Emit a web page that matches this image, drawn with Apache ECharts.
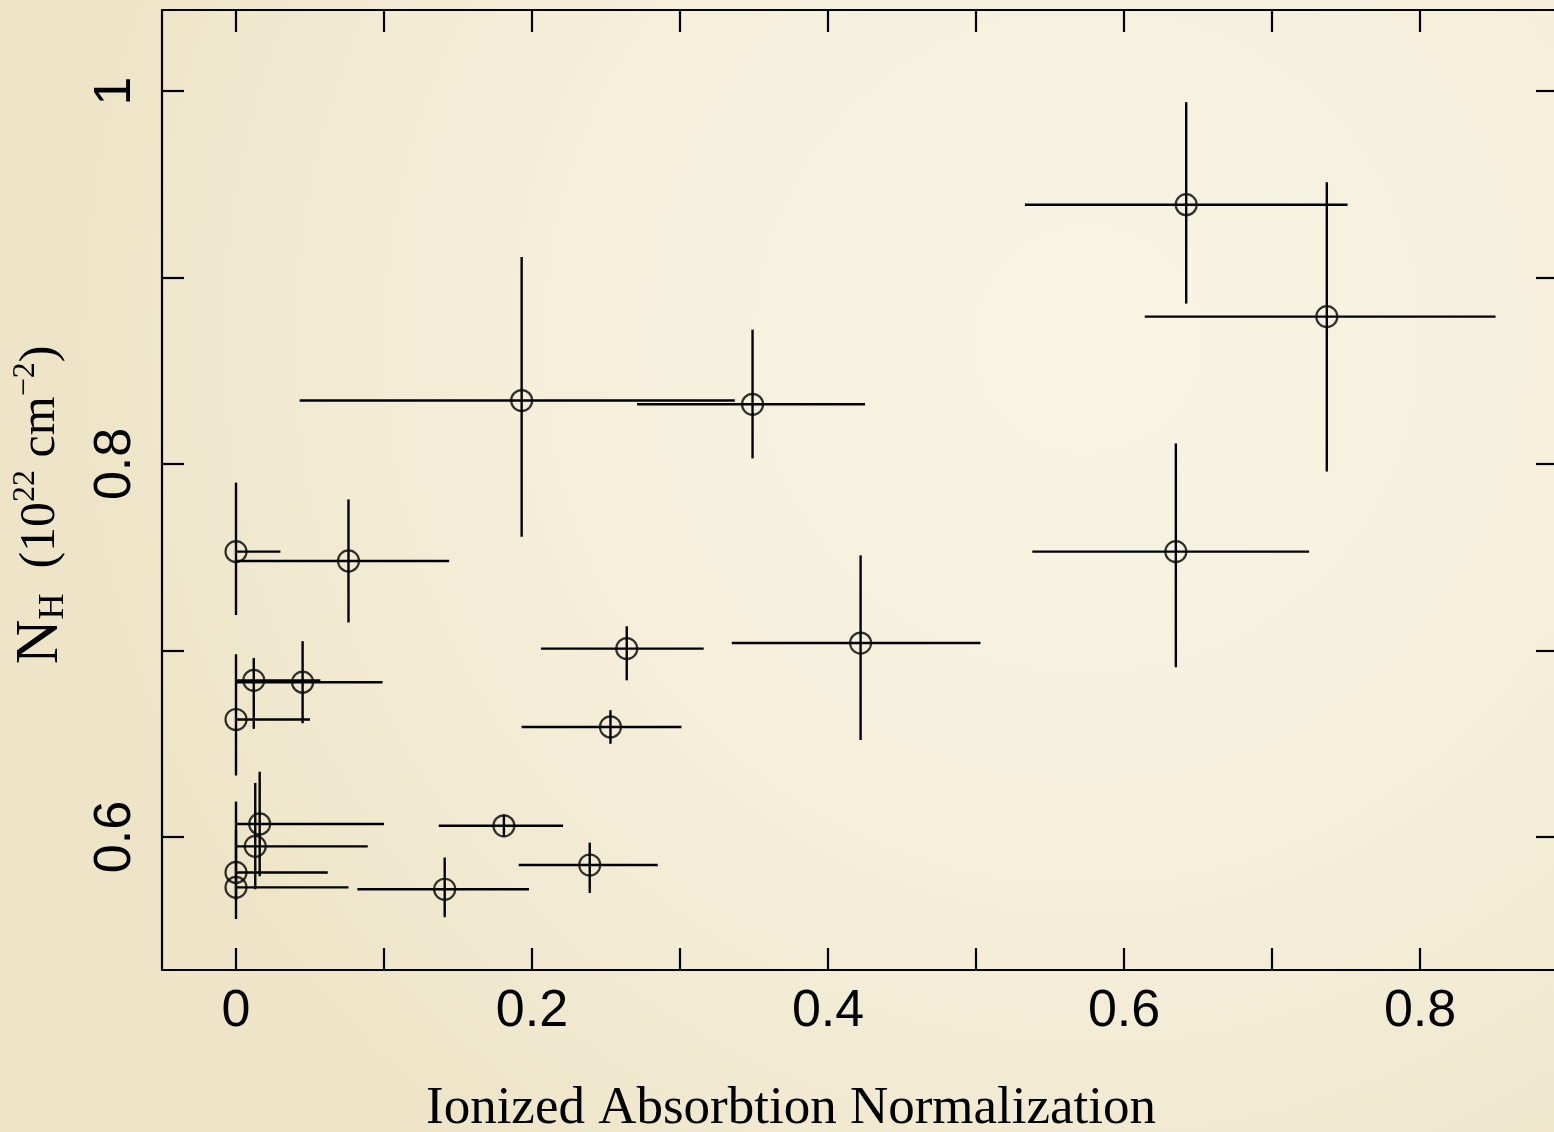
<!DOCTYPE html>
<html>
<head>
<meta charset="utf-8">
<script src="https://cdn.jsdelivr.net/npm/echarts@6/dist/echarts.min.js"></script>
<style>
html,body{margin:0;padding:0;background:#f2edd8;}
#chart{width:1554px;height:1132px;}
</style>
</head>
<body>
<div id="chart"></div>
<script>
// Ionized absorption normalization (x) and N_H (y), with error ranges
const xVals = [0.642, 0.737, 0.193, 0.349, 0.635, 0.422, 0.264, 0.253, 0.000, 0.076, 0.012, 0.045, 0.000, 0.016, 0.013, 0.000, 0.000, 0.141, 0.181, 0.239];
const xLo   = [0.533, 0.614, 0.043, 0.271, 0.538, 0.335, 0.206, 0.193, 0.000, 0.000, 0.000, 0.000, 0.000, 0.000, 0.000, 0.000, 0.000, 0.082, 0.137, 0.191];
const xHi   = [0.751, 0.851, 0.337, 0.425, 0.725, 0.503, 0.316, 0.301, 0.030, 0.144, 0.057, 0.099, 0.050, 0.100, 0.089, 0.062, 0.076, 0.198, 0.221, 0.285];
const yVals = [0.939, 0.879, 0.834, 0.832, 0.753, 0.704, 0.701, 0.659, 0.753, 0.748, 0.684, 0.683, 0.663, 0.607, 0.595, 0.581, 0.573, 0.572, 0.606, 0.585];
const yLo   = [0.886, 0.796, 0.761, 0.803, 0.691, 0.652, 0.684, 0.650, 0.719, 0.715, 0.658, 0.661, 0.633, 0.579, 0.572, 0.566, 0.556, 0.557, 0.600, 0.570];
const yHi   = [0.994, 0.951, 0.911, 0.872, 0.811, 0.751, 0.713, 0.668, 0.790, 0.781, 0.696, 0.705, 0.698, 0.635, 0.629, 0.619, 0.604, 0.589, 0.612, 0.597];

const xTicks = [0, 0.1, 0.2, 0.3, 0.4, 0.5, 0.6, 0.7, 0.8];
const xTickLabels = [0, 0.2, 0.4, 0.6, 0.8];
const yTicks = [0.6, 0.7, 0.8, 0.9, 1.0];
const yTickLabels = [0.6, 0.8, 1.0];

const X_MIN = -0.05, X_MAX = 0.8932;
const Y_MIN = 0.5287, Y_MAX = 1.0434;

const barData = xVals.map((x, i) => [x, yVals[i], xLo[i], xHi[i], yLo[i], yHi[i]]);
const pointData = xVals.map((x, i) => [x, yVals[i]]);

const chart = echarts.init(document.getElementById('chart'), null, {renderer: 'canvas'});

const axisLineStyle = {color: '#000', width: 2.2};
const tickStyle = {color: '#000', width: 2.2};

const option = {
  animation: false,
  backgroundColor: {
    type: 'radial', x: 0.7, y: 0.3, r: 0.9,
    colorStops: [
      {offset: 0, color: '#f8f5e5'},
      {offset: 0.6, color: '#f4eed9'},
      {offset: 1, color: '#eee5c8'}
    ]
  },
  grid: {left: 162, top: 10, width: 1396, height: 960, containLabel: false, outerBoundsMode: 'none'},
  xAxis: [
    {
      type: 'value', position: 'bottom', min: X_MIN, max: X_MAX,
      axisLine: {show: true, onZero: false, lineStyle: axisLineStyle},
      axisTick: {show: true, inside: true, length: 22, lineStyle: tickStyle, customValues: xTicks},
      axisLabel: {show: true, customValues: xTickLabels, margin: 16, color: '#000',
        fontSize: 52, fontFamily: 'Liberation Sans, Arial, sans-serif',
        formatter: v => String(Math.round(v * 10) / 10)},
      splitLine: {show: false}
    },
    {
      type: 'value', position: 'top', min: X_MIN, max: X_MAX,
      axisLine: {show: true, onZero: false, lineStyle: axisLineStyle},
      axisTick: {show: true, inside: true, length: 22, lineStyle: tickStyle, customValues: xTicks},
      axisLabel: {show: false},
      splitLine: {show: false}
    }
  ],
  yAxis: [
    {
      type: 'value', position: 'left', min: Y_MIN, max: Y_MAX,
      axisLine: {show: true, onZero: false, lineStyle: axisLineStyle},
      axisTick: {show: true, inside: true, length: 22, lineStyle: tickStyle, customValues: yTicks},
      axisLabel: {show: true, customValues: yTickLabels, rotate: 90, margin: 20, color: '#000',
        fontSize: 52, fontFamily: 'Liberation Sans, Arial, sans-serif',
        formatter: v => String(Math.round(v * 10) / 10)},
      splitLine: {show: false},
      name: '{n|N}{h|H}{t|  (10}{s|22}{t| cm}{s|−2}{t|)}',
      nameLocation: 'middle', nameRotate: 90, nameGap: 90,
      nameTextStyle: {
        color: '#000', fontFamily: 'Liberation Serif, Times New Roman, serif',
        padding: [0, 30, 0, 0],
        rich: {
          n: {fontSize: 62, lineHeight: 62, verticalAlign: 'middle', color: '#000', fontFamily: 'Liberation Serif'},
          h: {fontSize: 36, lineHeight: 36, verticalAlign: 'bottom', color: '#000', fontFamily: 'Liberation Serif'},
          t: {fontSize: 50, lineHeight: 62, verticalAlign: 'middle', color: '#000', fontFamily: 'Liberation Serif'},
          s: {fontSize: 32, lineHeight: 44, verticalAlign: 'top', color: '#000', fontFamily: 'Liberation Serif'}
        }
      }
    },
    {
      type: 'value', position: 'right', min: Y_MIN, max: Y_MAX,
      axisLine: {show: true, onZero: false, lineStyle: axisLineStyle},
      axisTick: {show: true, inside: true, length: 22, lineStyle: tickStyle, customValues: yTicks},
      axisLabel: {show: false},
      splitLine: {show: false}
    }
  ],
  graphic: [
    {
      type: 'text', x: 791, y: 1083, z: 10,
      style: {
        text: 'Ionized Absorbtion Normalization',
        fill: '#000', fontSize: 53, align: 'center', textAlign: 'center',
        fontFamily: 'Liberation Serif, Times New Roman, serif'
      }
    }
  ],
  series: [
    {
      type: 'custom', xAxisIndex: 0, yAxisIndex: 0, clip: false,
      data: barData,
      encode: {x: 0, y: 1},
      renderItem: function (params, api) {
        const c = [api.value(0), api.value(1)];
        const l = api.coord([api.value(2), c[1]]);
        const r = api.coord([api.value(3), c[1]]);
        const b = api.coord([c[0], api.value(4)]);
        const t = api.coord([c[0], api.value(5)]);
        return {
          type: 'group',
          children: [
            {type: 'line', shape: {x1: l[0], y1: l[1], x2: r[0], y2: r[1]}, style: {stroke: '#000', lineWidth: 2.4}},
            {type: 'line', shape: {x1: b[0], y1: b[1], x2: t[0], y2: t[1]}, style: {stroke: '#000', lineWidth: 2.4}}
          ]
        };
      },
      z: 2
    },
    {
      type: 'scatter', xAxisIndex: 0, yAxisIndex: 0,
      data: pointData,
      symbol: 'circle', symbolSize: 21,
      itemStyle: {color: 'rgba(0,0,0,0)', borderColor: '#000', borderWidth: 2.2},
      emphasis: {disabled: true},
      z: 3
    }
  ]
};
chart.setOption(option);
</script>
</body>
</html>
